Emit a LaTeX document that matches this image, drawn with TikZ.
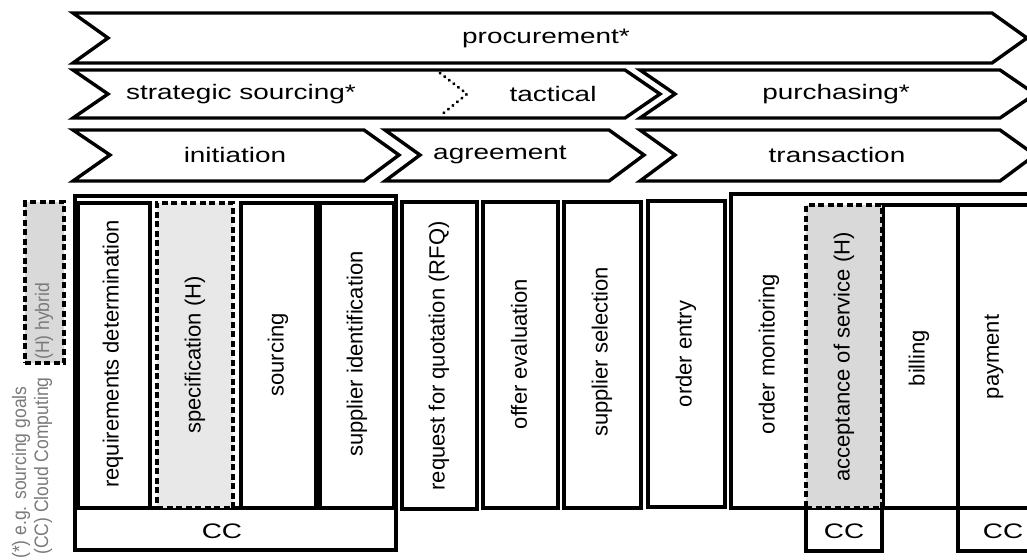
\documentclass[tikz,border=0pt]{standalone}
\usepackage{fontspec}
\setmainfont{Liberation Sans}
\newfontfamily\hfont[FakeStretch=1.33]{Liberation Sans}
\newfontfamily\vfont{Liberation Sans}
\newfontfamily\lfont[FakeStretch=0.9]{Liberation Sans}
\definecolor{hybA}{HTML}{D9D9D9}
\definecolor{hybB}{HTML}{E8E8E8}
\definecolor{legtext}{HTML}{7A7A7A}
\tikzset{
  chev/.style={draw, line width=3.4pt, line join=miter, fill=white},
  cell/.style={draw, line width=3.4pt, inner sep=0pt, outer sep=0pt, anchor=north west},
  hybrid/.style={cell, dash pattern=on 6pt off 3.5pt},
  vlab/.style={rotate=90, inner sep=0pt, font=\vfont\fontsize{22}{26}\selectfont},
  hlab/.style={inner sep=0pt, font=\hfont\fontsize{21}{25}\selectfont},
  llab/.style={rotate=90, anchor=west, inner sep=0pt, text=legtext, font=\lfont\fontsize{19.5}{23}\selectfont},
  sepline/.style={line width=3.2pt, line cap=round, dash pattern=on 0.3pt off 5.5pt},
}
\begin{document}
\begin{tikzpicture}[x=1pt,y=-1pt]
\useasboundingbox (0,0) rectangle (1027,559);

% ---- chevron rows ----
\draw[chev] (73,13) -- (992,13) -- (1027,38) -- (992,63) -- (73,63) -- (108,38) -- cycle;
\node[hlab] (procurement) at (546,38) {procurement*};

\draw[chev] (73,70) -- (625,70) -- (660,94) -- (625,118) -- (73,118) -- (108,94) -- cycle;
\draw[chev] (640,70) -- (1000,70) -- (1035,94) -- (1000,118) -- (640,118) -- (675,94) -- cycle;
\draw[sepline] (440,73) -- (467,94) -- (440,116);
\node[hlab] (strategic) at (241,94) {strategic sourcing*};
\node[hlab] (tactical) at (553,94) {tactical};
\node[hlab] (purchasing) at (836,94) {purchasing*};

\draw[chev] (73,130) -- (364,130) -- (399,155) -- (364,181) -- (73,181) -- (110,155) -- cycle;
\draw[chev] (385,130) -- (609,130) -- (644,155) -- (609,181) -- (385,181) -- (420,155) -- cycle;
\draw[chev] (640,130) -- (1000,130) -- (1035,155) -- (1000,181) -- (640,181) -- (675,155) -- cycle;
\node[hlab] (initiation) at (235,155) {initiation};
\node[hlab] (agreement) at (500,155) {agreement};
\node[hlab] (transaction) at (837,155) {transaction};

% ---- initiation block ----
\node[cell, minimum width=321pt, minimum height=354pt] (initouter) at (75,196) {};
\node[cell, minimum width=321pt, minimum height=42pt] (ccinit) at (75,508) {};
\node[hlab] (cclab1) at (222,531) {CC};
\node[cell, minimum width=72pt, minimum height=305pt] (req) at (78,203) {};
\node[hybrid, fill=hybB, minimum width=76pt, minimum height=305pt] (spec) at (157,203) {};
\node[cell, minimum width=75pt, minimum height=305pt] (sourcing) at (241,203) {};
\node[cell, minimum width=74pt, minimum height=305pt] (supid) at (320,203) {};
\node[vlab] (reqlab) at (113,354) {requirements determination};
\node[vlab] (speclab) at (195,355) {specification (H)};
\node[vlab] (sourcinglab) at (278,355) {sourcing};
\node[vlab] (supidlab) at (357,354) {supplier identification};

% ---- agreement block ----
\node[cell, minimum width=75pt, minimum height=307pt] (rfq) at (402,202) {};
\node[cell, minimum width=75pt, minimum height=306pt] (offer) at (483,202) {};
\node[cell, minimum width=77pt, minimum height=306pt] (supsel) at (564,202) {};
\node[vlab] (rfqlab) at (439,356) {request for quotation (RFQ)};
\node[vlab] (offerlab) at (519,354) {offer evaluation};
\node[vlab] (supsellab) at (602,352) {supplier selection};

% ---- transaction block ----
\node[cell, minimum width=77pt, minimum height=306pt] (oentry) at (648,201) {};
\node[vlab] (oentrylab) at (686,354) {order entry};
\node[cell, minimum width=320pt, minimum height=314pt] (omon) at (731,194) {};
\node[vlab] (omonlab) at (769,354) {order monitoring};
\node[cell, minimum width=76pt, minimum height=43pt] (cc2) at (806,508) {};
\node[cell, minimum width=75pt, minimum height=303pt] (billing) at (883,205) {};
\node[cell, minimum width=90pt, minimum height=303pt] (payment) at (958,205) {};
\node[cell, minimum width=90pt, minimum height=43pt] (cc3) at (958,508) {};
\node[hybrid, fill=hybA, minimum width=76pt, minimum height=303pt] (accept) at (806,205) {};
\node[vlab] (acceptlab) at (844,357) {acceptance of service (H)};
\node[vlab] (billinglab) at (919,358) {billing};
\node[vlab] (paymentlab) at (994,357) {payment};
\node[hlab] (cclab2) at (844,531) {CC};
\node[hlab] (cclab3) at (1003,531) {CC};

% ---- legend ----
\node[hybrid, fill=hybA, minimum width=39pt, minimum height=161pt] (legbox) at (25,202) {};
\node[llab] (leg1) at (21,559) {(*) e.g. sourcing goals};
\node[llab] (leg2) at (43,555) {(CC) Cloud Computing};
\node[llab] (leg3) at (44,360) {(H) hybrid};
\end{tikzpicture}
\end{document}
